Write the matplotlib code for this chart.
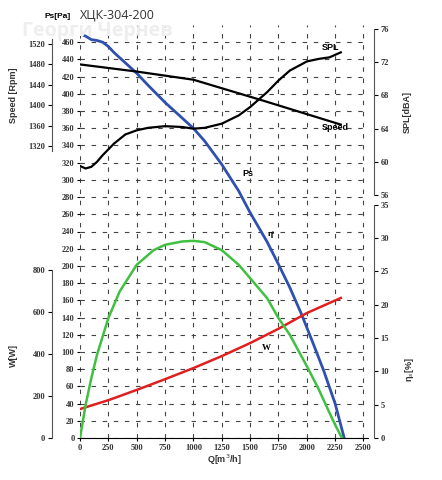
import matplotlib
matplotlib.use("Agg")
import matplotlib.pyplot as plt
import numpy as np

Q_ps = [0, 50, 100, 150, 200, 250, 300, 400, 500, 600, 750, 900, 1000, 1100, 1250, 1400, 1500, 1650, 1750, 1850, 1950, 2050, 2150, 2250, 2330]
Ps = [470, 467, 463, 462, 460, 455, 448, 436, 424, 410, 390, 372, 360, 345, 318, 287, 262, 228, 202, 175, 145, 112, 78, 40, 0]
Q_sp = [0, 500, 1000, 1600, 2300]
Speed = [1480, 1466, 1450, 1410, 1362]
Q_spl = [0, 50, 100, 150, 200, 300, 400, 500, 600, 750, 900, 1000, 1100, 1250, 1400, 1500, 1650, 1750, 1850, 2000, 2100, 2200, 2300]
SPL = [59.5, 59.2, 59.4, 60.0, 60.8, 62.2, 63.3, 63.8, 64.1, 64.3, 64.2, 64.0, 64.1, 64.6, 65.6, 66.6, 68.4, 69.8, 71.0, 72.1, 72.4, 72.6, 73.2]
Q_eta = [0, 50, 100, 150, 250, 350, 500, 650, 750, 900, 1000, 1100, 1250, 1400, 1500, 1650, 1750, 1850, 2000, 2100, 2200, 2250, 2310]
Eta = [0, 5, 9, 12.5, 18, 22, 26, 28.2, 29, 29.5, 29.6, 29.4, 28.2, 26, 24, 21, 18, 15.5, 10.8, 7.5, 3.8, 2, 0]
Q_w = [0, 250, 500, 750, 1000, 1250, 1500, 1750, 2000, 2300]
W = [138, 180, 229, 280, 333, 390, 452, 520, 595, 667]

plt.rcParams['font.family'] = ['Liberation Serif']
fig = plt.figure(figsize=(4.42, 4.8), dpi=100)
rect = [80/442, 42/480, 288/442, 413/480]
ax = fig.add_axes(rect)
ax.set_xlim(0, 2540)
ax.set_ylim(0, 480)
ax.set_xticks(np.arange(0, 2501, 250))
ax.set_xticklabels([str(v) for v in range(0, 2501, 250)], fontsize=6, fontweight='bold', color='#333')
ax.set_yticks(np.arange(0, 461, 20))
ax.set_yticklabels([str(v) for v in range(0, 461, 20)], fontsize=6, fontweight='bold', color='#333')
ax.tick_params(length=2, pad=2)
for s in ['top', 'right', 'left']:
    ax.spines[s].set_visible(False)
ax.grid(True, ls=(0, (4, 6)), color='#444', lw=0.8)
ax.set_xlabel('Q[m$^3$/h]', fontsize=6.5, fontweight='bold', labelpad=1, color='#333', family='Liberation Sans')
ax.plot(Q_ps, Ps, color='#3050b0', lw=2)
ax.text(1430, 305, 'Ps', fontsize=6.5, fontweight='bold', family='Liberation Sans')
ax.text(1660, 235, 'ηˢ', fontsize=6.5, fontweight='bold')
ax.text(1600, 102, 'W', fontsize=6.5, fontweight='bold')

def make(lim, ticks, side, off, label, bounds, lab_xy):
    a = ax.twinx()
    a.set_position(rect)
    a.set_ylim(*lim)
    for s in ['top', 'bottom', 'left', 'right']:
        a.spines[s].set_visible(False)
    a.spines[side].set_visible(True)
    a.spines[side].set_position(('outward', off))
    a.spines[side].set_bounds(*bounds)
    a.spines[side].set_color('#555')
    a.yaxis.set_ticks_position(side)
    a.yaxis.set_label_position(side)
    a.set_yticks(ticks)
    a.set_yticklabels([str(int(t)) for t in ticks], fontsize=6, fontweight='bold', color='#333')
    a.set_ylabel(label, fontsize=6.5, fontweight='bold', color='#333', family='Liberation Sans')
    a.yaxis.set_label_coords(*lab_xy)
    a.tick_params(length=3, pad=2)
    a.set_xlim(0, 2540)
    return a

asp = make((747.4, 1557.3), np.arange(1320, 1521, 40), 'left', 20, 'Speed [Rpm]', (1310, 1530), (-0.215, 0.83))
asp.plot(Q_sp, Speed, color='black', lw=1.6)
asp.text(2130, 1352, 'Speed', fontsize=6.5, fontweight='bold', family='Liberation Sans')
aspl = make((26.7, 76.5), np.arange(56, 77, 4), 'right', 4, 'SPL[dBA]', (56, 76), (1.12, 0.79))
aspl.plot(Q_spl, SPL, color='black', lw=1.6)
aspl.text(2130, 73.5, 'SPL', fontsize=6.5, fontweight='bold', family='Liberation Sans')
aw = make((0, 1967), np.arange(0, 801, 200), 'left', 20, 'W[W]', (0, 800), (-0.215, 0.2))
aw.plot(Q_w, W, color='#e02020', lw=1.8)
aeta = make((0, 62), np.arange(0, 36, 5), 'right', 4, 'η$_s$[%]', (0, 35), (1.12, 0.165))
aeta.plot(Q_eta, Eta, color='#40c040', lw=1.8)

fig.text(71/442, 1 - 16/480, 'Ps[Pa]', fontsize=6, fontweight='bold', family='Liberation Sans', va='center', ha='right')
fig.text(80/442, 1 - 15/480, 'ХЦК-304-200', fontsize=9, family='Open Sans', va='center', color='#333')
fig.text(22/442, 1 - 31/480, 'Георги Чернев', fontsize=14, family='Open Sans', fontweight='bold', va='center', color='#eeeeee', zorder=0)
fig.savefig('out.png', dpi=100)
